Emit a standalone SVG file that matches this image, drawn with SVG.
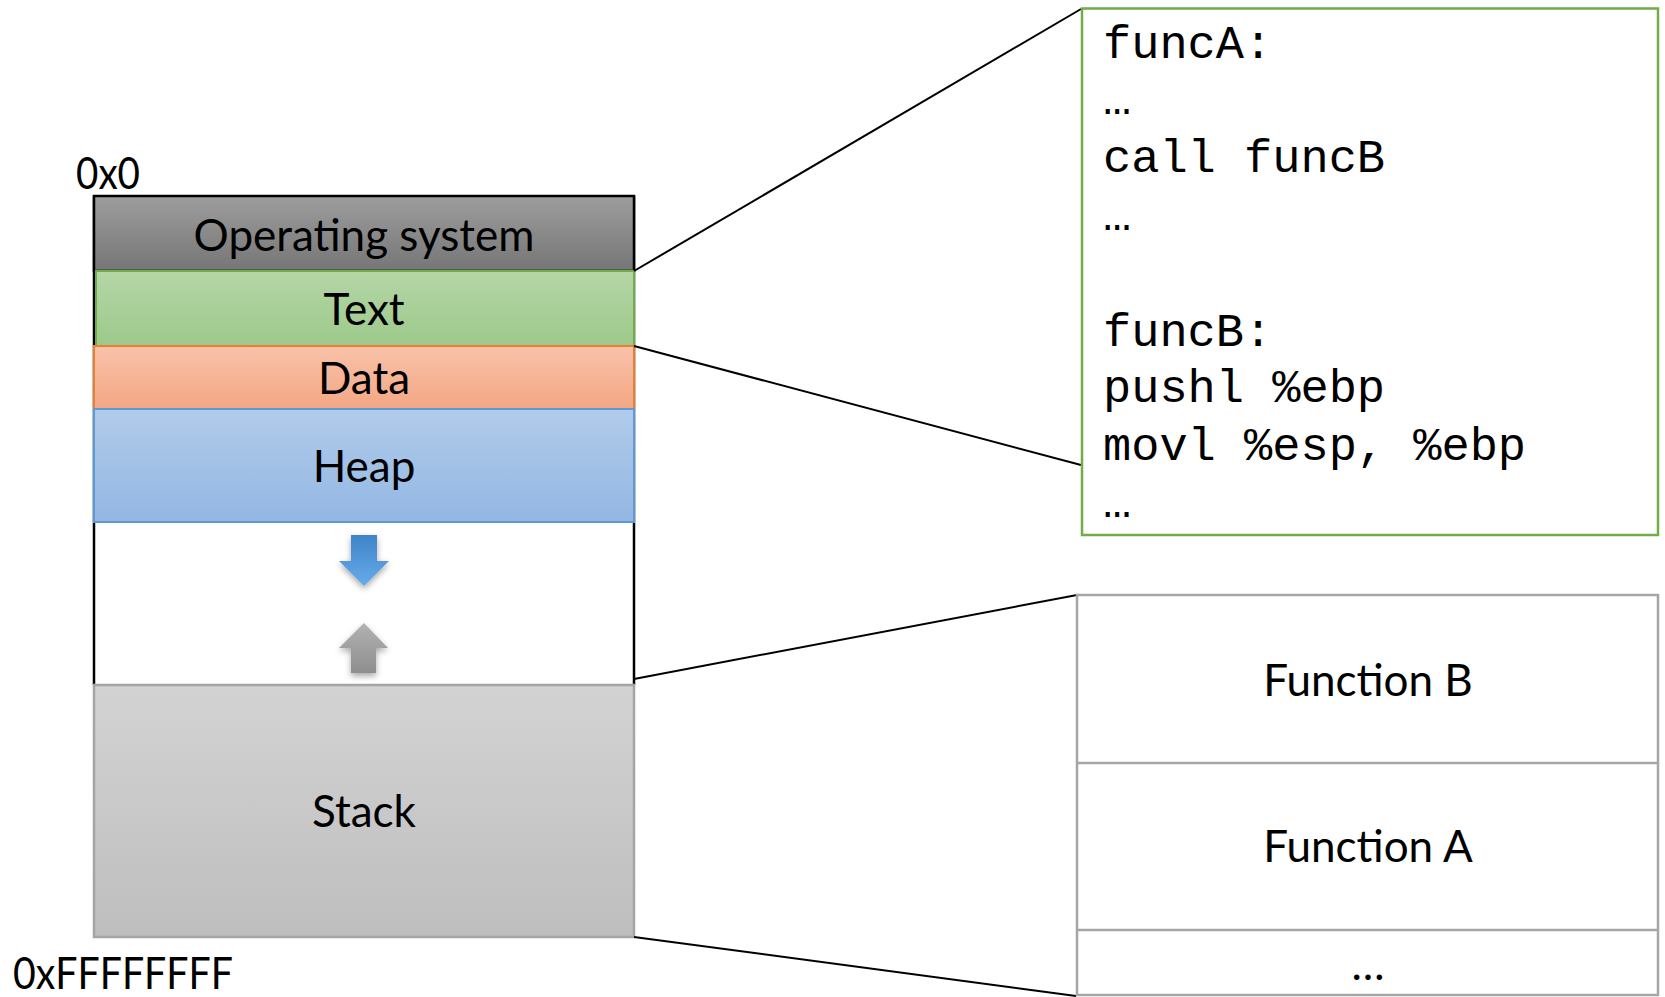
<svg xmlns="http://www.w3.org/2000/svg" width="1665" height="997" viewBox="0 0 1665 997">
  <defs>
    <linearGradient id="gOs" x1="0" y1="0" x2="0" y2="1">
      <stop offset="0" stop-color="#9d9d9d"/>
      <stop offset="1" stop-color="#767676"/>
    </linearGradient>
    <linearGradient id="gText" x1="0" y1="0" x2="0" y2="1">
      <stop offset="0" stop-color="#b5d6a7"/>
      <stop offset="1" stop-color="#9cc98a"/>
    </linearGradient>
    <linearGradient id="gData" x1="0" y1="0" x2="0" y2="1">
      <stop offset="0" stop-color="#f8c2a9"/>
      <stop offset="1" stop-color="#f4a784"/>
    </linearGradient>
    <linearGradient id="gHeap" x1="0" y1="0" x2="0" y2="1">
      <stop offset="0" stop-color="#b1cbea"/>
      <stop offset="1" stop-color="#93b7e3"/>
    </linearGradient>
    <linearGradient id="gStack" x1="0" y1="0" x2="0" y2="1">
      <stop offset="0" stop-color="#d3d3d3"/>
      <stop offset="1" stop-color="#bebebe"/>
    </linearGradient>
    <linearGradient id="gDown" x1="0" y1="0" x2="0" y2="1">
      <stop offset="0" stop-color="#3e84c6"/>
      <stop offset="1" stop-color="#67abec"/>
    </linearGradient>
    <linearGradient id="gUp" x1="0" y1="0" x2="0" y2="1">
      <stop offset="0" stop-color="#b2b2b2"/>
      <stop offset="1" stop-color="#8e8e8e"/>
    </linearGradient>
    <filter id="shadow" x="-50%" y="-50%" width="200%" height="200%">
      <feDropShadow dx="0" dy="3" stdDeviation="3" flood-color="#000" flood-opacity="0.35"/>
    </filter>
  </defs>
  <style>
    .lbl { font-family: Lato, "Open Sans", sans-serif; font-size: 44px; fill: #000; text-anchor: middle; }
    .addr { font-family: Lato, "Open Sans", sans-serif; font-size: 44px; fill: #000; }
    .code { font-family: "Liberation Mono", "Courier New", monospace; font-size: 47px; fill: #000; }
    .conn { stroke: #000; stroke-width: 2; fill: none; }
    .frame { fill: #fff; stroke: #a6a6a6; stroke-width: 2.5; }
  </style>

  <rect width="1665" height="997" fill="#fff"/>

  <!-- address labels -->
  <text class="addr" x="76" y="189" textLength="64" lengthAdjust="spacingAndGlyphs">0x0</text>
  <text class="addr" x="13" y="989" textLength="220" lengthAdjust="spacingAndGlyphs">0xFFFFFFFF</text>

  <!-- memory layout column -->
  <g id="memory">
    <line x1="94" y1="196" x2="94" y2="685" stroke="#000" stroke-width="2.5"/>
    <line x1="634" y1="196" x2="634" y2="685" stroke="#000" stroke-width="2.5"/>
    <g id="os">
      <rect x="94" y="196" width="540" height="75" fill="url(#gOs)" stroke="#000" stroke-width="2.5"/>
      <text class="lbl" x="364" y="251">Operating system</text>
    </g>
    <g id="text-seg">
      <rect x="96" y="271" width="538" height="75" fill="url(#gText)" stroke="#70ad47" stroke-width="2"/>
      <text class="lbl" x="364" y="325">Text</text>
    </g>
    <g id="data-seg">
      <rect x="94" y="346" width="540" height="63" fill="url(#gData)" stroke="#ed7d31" stroke-width="2"/>
      <text class="lbl" x="364" y="394">Data</text>
    </g>
    <g id="heap-seg">
      <rect x="94" y="409" width="540" height="113" fill="url(#gHeap)" stroke="#5b9bd5" stroke-width="2"/>
      <text class="lbl" x="364" y="482">Heap</text>
    </g>
    <g id="grow-arrows">
      <path d="M351 535 H377 V561 H389 L364 586 L339 561 H351 Z" fill="url(#gDown)" filter="url(#shadow)"/>
      <path d="M364 623 L388 648 H376 V673 H351 V648 H339 Z" fill="url(#gUp)" filter="url(#shadow)"/>
    </g>
    <g id="stack-seg">
      <rect x="94" y="685" width="540" height="252" fill="url(#gStack)" stroke="#a5a5a5" stroke-width="2.5"/>
      <text class="lbl" x="364" y="827">Stack</text>
    </g>
  </g>

  <!-- zoom-in connectors -->
  <g id="connectors">
    <line class="conn" x1="634" y1="271" x2="1081" y2="9"/>
    <line class="conn" x1="634" y1="346" x2="1081" y2="465"/>
    <line class="conn" x1="634" y1="679" x2="1077" y2="595"/>
    <line class="conn" x1="634" y1="937" x2="1076" y2="996"/>
  </g>

  <!-- assembly listing of the text segment -->
  <g id="code">
    <rect x="1082" y="8.5" width="576" height="526.5" fill="#fff" stroke="#70ad47" stroke-width="2.5"/>
    <text class="code" x="1103" y="58">funcA:</text>
    <text class="code" x="1103" y="114">…</text>
    <text class="code" x="1103" y="172">call funcB</text>
    <text class="code" x="1103" y="230">…</text>
    <text class="code" x="1103" y="346">funcB:</text>
    <text class="code" x="1103" y="402">pushl %ebp</text>
    <text class="code" x="1103" y="459.6">movl %esp, %ebp</text>
    <text class="code" x="1103" y="517.4">…</text>
  </g>

  <!-- stack frames -->
  <g id="frames">
    <rect class="frame" x="1077" y="595" width="581" height="400"/>
    <line x1="1077" y1="763" x2="1658" y2="763" stroke="#a6a6a6" stroke-width="2.5"/>
    <line x1="1077" y1="930" x2="1658" y2="930" stroke="#a6a6a6" stroke-width="2.5"/>
    <g id="frame-b"><text class="lbl" x="1368" y="696">Function B</text></g>
    <g id="frame-a"><text class="lbl" x="1368" y="862">Function A</text></g>
    <g id="frame-more"><text class="lbl" x="1368" y="980">…</text></g>
  </g>
</svg>
